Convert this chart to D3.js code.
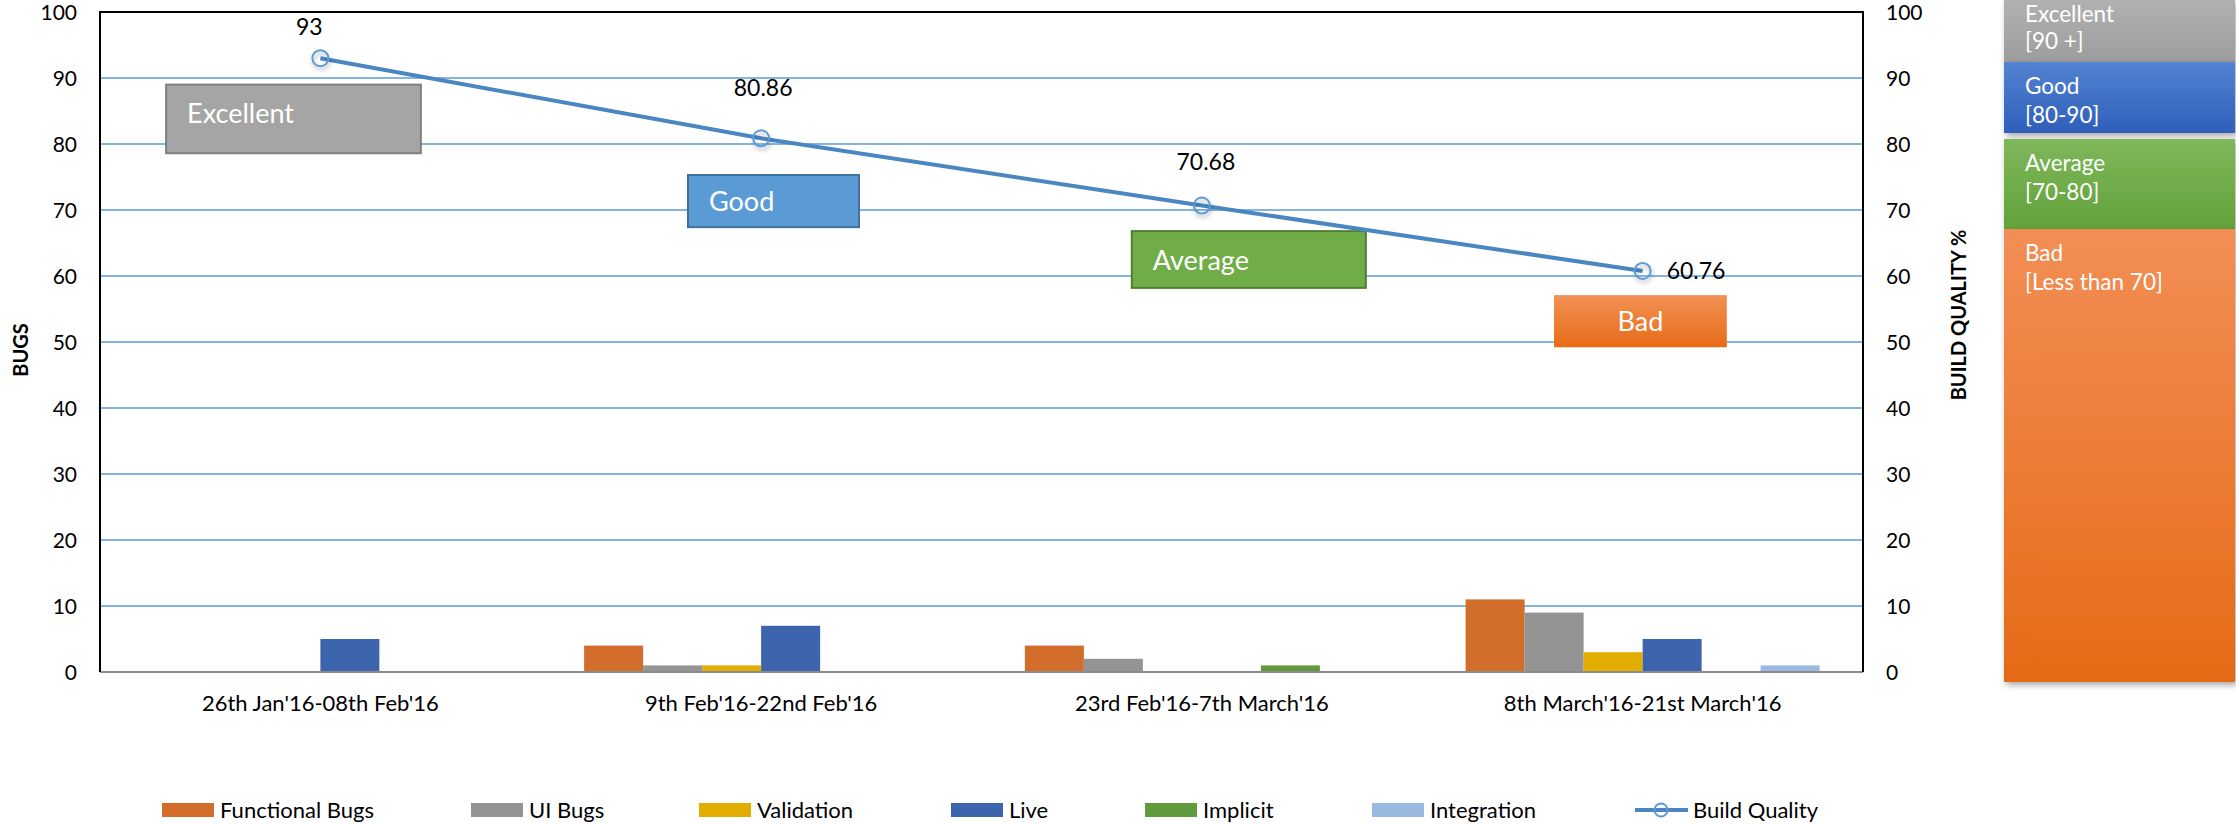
<!DOCTYPE html>
<html><head><meta charset="utf-8">
<script src="https://cdn.jsdelivr.net/npm/d3@7"></script>
<style>
html,body{margin:0;padding:0;background:#fff;}
svg{display:block;font-family:Lato, "Open Sans", sans-serif;}
</style></head>
<body>
<svg id="chart" width="2236" height="824"></svg>
<script>
// ---- data ----
const categories = ["26th Jan'16-08th Feb'16", "9th Feb'16-22nd Feb'16", "23rd Feb'16-7th March'16", "8th March'16-21st March'16"];
const seriesNames = ["Functional Bugs", "UI Bugs", "Validation", "Live", "Implicit", "Integration"];
const functionalBugs = [0, 4, 4, 11];
const uiBugs = [0, 1, 2, 9];
const validation = [0, 1, 0, 3];
const live = [5, 7, 0, 5];
const implicit = [0, 0, 1, 0];
const integration = [0, 0, 0, 1];
const buildQuality = [93, 80.86, 70.68, 60.76];
const yTicks = [0, 10, 20, 30, 40, 50, 60, 70, 80, 90, 100];
const qualityLabels = ["Excellent", "Good", "Average", "Bad"];
const qualityRanges = ["[90 +]", "[80-90]", "[70-80]", "[Less than 70]"];
// annotation boxes: [x0, x1] in category units, [yTop, yBottom] in axis units
const annoX = [[0.150, 0.728], [1.334, 1.722], [2.341, 2.872], [3.299, 3.691]];
const annoY = [[89, 78.6], [75.3, 67.4], [66.8, 58.2], [57.1, 49.2]];

const seriesValues = [functionalBugs, uiBugs, validation, live, implicit, integration];
const colors = ["#d36d2b", "#949494", "#e2ac00", "#3d65ad", "#609a3c", "#99b9e0"];

const svg = d3.select("#chart");
const L = 100, R = 1863, T = 12, B = 672;

const x0 = d3.scaleBand().domain(categories).range([L, R]);
const groupW = 354;
const x1 = d3.scaleBand().domain(seriesNames)
  .range([(x0.bandwidth() - groupW) / 2, (x0.bandwidth() + groupW) / 2]);
const xPos = d3.scaleLinear().domain([0, categories.length]).range([L, R]);
const yL = d3.scaleLinear().domain([0, 100]).range([B, T]);
const yR = d3.scaleLinear().domain([0, 100]).range([B, T]);

// defs
const defs = svg.append("defs");
function grad(id, c1, c2) {
  const g = defs.append("linearGradient").attr("id", id).attr("x1", 0).attr("y1", 0).attr("x2", 0).attr("y2", 1);
  g.append("stop").attr("offset", "0%").attr("stop-color", c1);
  g.append("stop").attr("offset", "100%").attr("stop-color", c2);
}
grad("gEx", "#b1b1b1", "#9d9d9d");
grad("gGood", "#5482d3", "#2f5fb9");
grad("gAvg", "#7fb75b", "#62a23a");
grad("gBad", "#f28e55", "#e56a16");
grad("gBadSmall", "#f29155", "#e86b17");
const sh = defs.append("filter").attr("id", "shadow").attr("x", "-10%").attr("y", "-10%").attr("width", "130%").attr("height", "130%");
sh.append("feDropShadow").attr("dx", 2).attr("dy", 3).attr("stdDeviation", 3).attr("flood-color", "#000").attr("flood-opacity", 0.35);
const msh = defs.append("filter").attr("id", "mshadow").attr("x", "-50%").attr("y", "-50%").attr("width", "200%").attr("height", "200%");
msh.append("feDropShadow").attr("dx", 1).attr("dy", 3).attr("stdDeviation", 2).attr("flood-color", "#000").attr("flood-opacity", 0.3);

// gridlines
svg.append("g").selectAll("line").data(yTicks.filter(d => d > 0 && d < 100)).join("line")
  .attr("x1", L).attr("x2", R).attr("y1", d => yL(d)).attr("y2", d => yL(d))
  .attr("stroke", "#5b9bd5").attr("stroke-width", 1.5);

// bars
const bars = svg.append("g");
categories.forEach((c, ci) => {
  seriesNames.forEach((s, si) => {
    const v = seriesValues[si][ci];
    if (v > 0) {
      bars.append("rect")
        .attr("x", x0(c) + x1(s)).attr("width", x1.bandwidth())
        .attr("y", yL(v)).attr("height", yL(0) - yL(v))
        .attr("fill", colors[si]);
    }
  });
});

// plot border
svg.append("line").attr("x1", L).attr("x2", R).attr("y1", B).attr("y2", B).attr("stroke", "#8c8c8c").attr("stroke-width", 2);
svg.append("path").attr("d", `M${L},${B} V${T} H${R} V${B}`).attr("fill", "none").attr("stroke", "#000").attr("stroke-width", 2);

// axes
const axL = svg.append("g").attr("transform", `translate(${L},0)`)
  .call(d3.axisLeft(yL).tickValues(yTicks).tickSize(0).tickPadding(23));
const axR = svg.append("g").attr("transform", `translate(${R},0)`)
  .call(d3.axisRight(yR).tickValues(yTicks).tickSize(0).tickPadding(23));
const axB = svg.append("g").attr("transform", `translate(0,${B})`)
  .call(d3.axisBottom(x0).tickSize(0).tickPadding(23));
[axL, axR].forEach(a => {
  a.select(".domain").remove();
  a.selectAll("text").attr("font-family", "Lato, sans-serif").attr("font-size", 21).attr("fill", "#000").attr("dy", "0.38em");
});
axB.select(".domain").remove();
axB.selectAll("text").attr("font-family", "Lato, sans-serif").attr("font-size", 22).attr("fill", "#000");

// axis titles
svg.append("text").attr("transform", `translate(28,${(T + B) / 2 + 8}) rotate(-90)`)
  .attr("text-anchor", "middle").attr("font-weight", "bold").attr("font-size", 20).text("BUGS");
svg.append("text").attr("transform", `translate(1966,315) rotate(-90)`)
  .attr("text-anchor", "middle").attr("font-weight", "bold").attr("font-size", 20).text("BUILD QUALITY %");

// annotation boxes
const annoFill = ["#a5a5a5", "#5b9bd5", "#70ad47", "url(#gBadSmall)"];
const annoStroke = ["#7f7f7f", "#41719c", "#507e32", "none"];
qualityLabels.forEach((q, i) => {
  const xa = xPos(annoX[i][0]), xb = xPos(annoX[i][1]);
  const ya = yR(annoY[i][0]), yb = yR(annoY[i][1]);
  svg.append("rect").attr("x", xa).attr("y", ya).attr("width", xb - xa).attr("height", yb - ya)
    .attr("fill", annoFill[i]).attr("stroke", annoStroke[i]).attr("stroke-width", 2);
  const t = svg.append("text").attr("fill", "#fff").attr("font-size", 27)
    .attr("y", i === 0 ? ya + 38 : (ya + yb) / 2 + 10).text(q);
  if (i === 3) t.attr("x", (xa + xb) / 2).attr("text-anchor", "middle");
  else t.attr("x", xa + 21);
});

// build quality line
const cx = i => x0(categories[i]) + x0.bandwidth() / 2;
const line = d3.line().x((d, i) => cx(i)).y(d => yR(d));
svg.append("path").datum(buildQuality).attr("d", line)
  .attr("fill", "none").attr("stroke", "#4a86c2").attr("stroke-width", 4);
svg.append("g").selectAll("circle").data(buildQuality).join("circle")
  .attr("cx", (d, i) => cx(i)).attr("cy", d => yR(d)).attr("r", 8)
  .attr("fill", "none").attr("stroke", "#5b9bd5").attr("stroke-width", 2).attr("filter", "url(#mshadow)");

// value labels
const lblDx = [-11, 2, 4, 24], lblDy = [-23, -42, -36, 8], lblAnchor = ["middle", "middle", "middle", "start"];
svg.append("g").selectAll("text").data(buildQuality).join("text")
  .attr("x", (d, i) => cx(i) + lblDx[i]).attr("y", (d, i) => yR(d) + lblDy[i])
  .attr("text-anchor", (d, i) => lblAnchor[i]).attr("font-size", 23).attr("fill", "#000")
  .text(d => d);

// legend
const legX = [162, 471, 699, 951, 1145, 1372];
const legY = 810;
const leg = svg.append("g");
seriesNames.forEach((s, i) => {
  leg.append("rect").attr("x", legX[i]).attr("y", legY - 7).attr("width", 52).attr("height", 14).attr("fill", colors[i]);
  leg.append("text").attr("x", legX[i] + 58).attr("y", legY + 8).attr("font-size", 22).text(s);
});
leg.append("line").attr("x1", 1635).attr("x2", 1688).attr("y1", legY).attr("y2", legY).attr("stroke", "#4a86c2").attr("stroke-width", 4);
leg.append("circle").attr("cx", 1661).attr("cy", legY).attr("r", 6.5).attr("fill", "none").attr("stroke", "#5b9bd5").attr("stroke-width", 2);
leg.append("text").attr("x", 1693).attr("y", legY + 8).attr("font-size", 22).text("Build Quality");

// quality range legend (right)
const qTop = [0, 62, 139, 229], qBot = [62, 133, 229, 682];
const qFill = ["url(#gEx)", "url(#gGood)", "url(#gAvg)", "url(#gBad)"];
const qL = 2004, qW = 231;
qualityLabels.forEach((q, i) => {
  svg.append("rect").attr("x", qL).attr("y", qTop[i]).attr("width", qW).attr("height", qBot[i] - qTop[i])
    .attr("fill", qFill[i]).attr("filter", "url(#shadow)");
});
qualityLabels.forEach((q, i) => {
  svg.append("text").attr("x", 2025).attr("y", qTop[i] + (i === 0 ? 22 : 32)).attr("fill", "#fff").attr("font-size", 22.5).text(q);
  svg.append("text").attr("x", 2025).attr("y", qTop[i] + (i === 0 ? 49 : 61)).attr("fill", "#fff").attr("font-size", 22.5).text(qualityRanges[i]);
});
</script>
</body></html>
